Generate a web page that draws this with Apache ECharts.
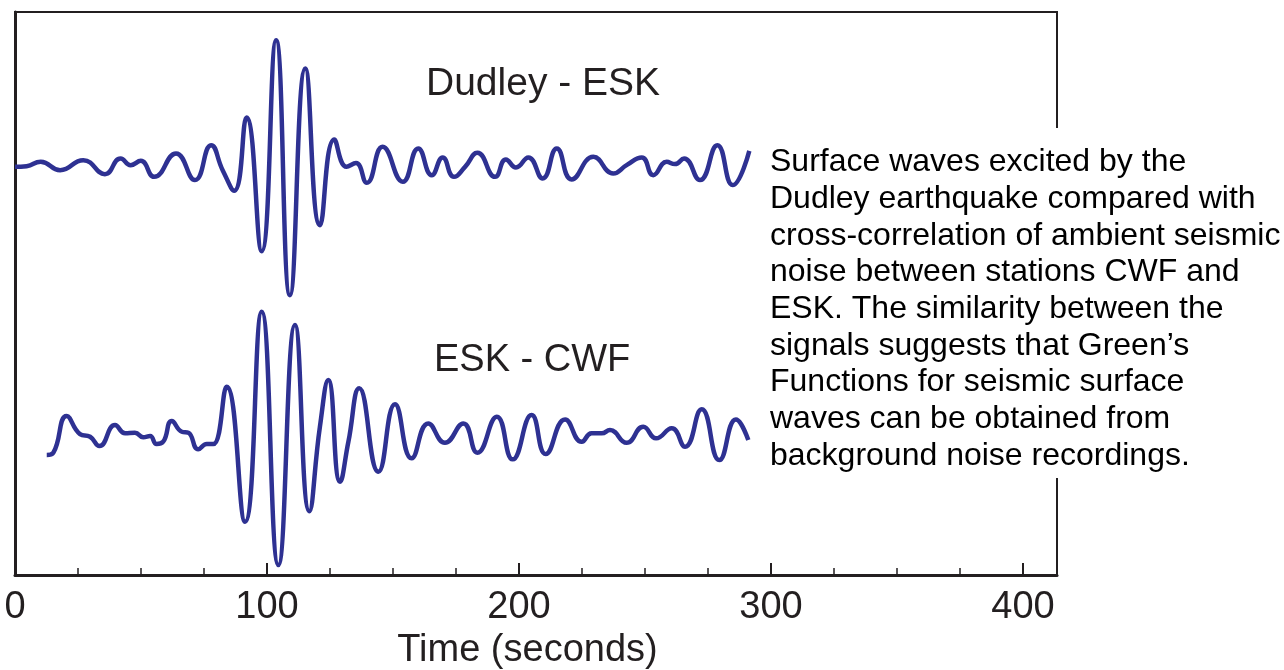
<!DOCTYPE html>
<html>
<head>
<meta charset="utf-8">
<script src="https://cdn.jsdelivr.net/npm/echarts@6/dist/echarts.min.js"></script>
<style>html,body{margin:0;padding:0;background:#fff;}#c{width:1284px;height:670px;}</style>
</head>
<body>
<div id="c"></div>
<script>
// Dudley - ESK (earthquake record): time (s) and relative amplitude
const quakeTime = [0, 4.6, 10.2, 17.9, 27.1, 35.7, 41.9, 45.9, 49.9, 55.2, 63.9, 71.4, 77.8, 82.4, 87.0, 91.9, 97.9, 103.6, 109.1, 115.2, 121.0, 126.7, 131.6, 135.3, 139.6, 145.9, 153.9, 160.0, 165.4, 169.7, 174.2, 178.6, 183.5, 190.5, 194.8, 198.8, 203.7, 209.4, 215.0, 220.9, 229.5, 237.4, 242.7, 248.7, 253.3, 258.6, 261.9, 265.5, 271.8, 278.7, 284.8, 291.4];
const quakeAmp = [-0.30, -0.18, 0.59, -0.89, 0.89, -1.60, 1.19, 0, 0.76, -2.08, 2.08, -2.66, 3.55, -0.89, -4.56, 8.47, -15.28, 22.20, -23.09, 17.18, -10.66, 4.56, -0.30, 0.36, -3.14, 3.25, -2.97, 2.97, -1.78, 1.37, -2.08, -0.30, 2.18, -2.08, 1.01, -0.41, 1.37, -2.36, 2.97, -2.54, 1.47, -1.47, 0, 1.37, -1.78, 0.59, 0.18, 1.19, -2.66, 3.55, -3.55, 2.54];

// ESK - CWF (ambient noise cross-correlation): time (s) and relative amplitude
const noiseTime = [12.6, 15.2, 20.5, 25.8, 29.8, 33.5, 39.7, 43.7, 47.6, 50.9, 53.6, 56.2, 58.8, 62.2, 66.2, 68.8, 72.7, 76.1, 78.7, 84.0, 91.3, 97.9, 104.5, 111.1, 116.8, 121.0, 124.3, 129.0, 132.3, 136.6, 144.2, 150.8, 157.4, 164.0, 170.6, 177.9, 183.5, 191.2, 197.5, 205.0, 210.6, 218.3, 224.9, 228.8, 232.8, 236.1, 242.7, 249.3, 254.4, 260.6, 265.9, 272.5, 279.5, 286.1, 291.0];
const noiseAmp = [-3.20, -2.79, 3.73, 0.53, 0.05, -1.60, 2.13, 0.66, 0.76, -0.05, 0.18, -1.24, -0.83, 2.84, 0.94, 0.76, -2.18, -1.24, -1.24, 8.93, -15.04, 22.26, -22.74, 19.89, -13.16, 1.83, 10.12, -7.94, -0.83, 8.65, -6.16, 5.81, -3.78, 2.43, -1.01, 2.43, -2.79, 3.61, -3.96, 3.91, -3.02, 3.14, -0.83, 0.66, 0.66, 1.24, -1.01, 1.83, -0.23, 1.55, -1.72, 4.92, -4.09, 3.14, -0.53];

// trace vertical offsets (baseline of each trace)
const quakeOffset = 72.8;
const noiseOffset = 24.5;

// axis ticks
const majorTicks = [0, 100, 200, 300, 400];
const minorTicks = [25, 50, 75, 125, 150, 175, 225, 250, 275, 325, 350, 375];

const traceLabels = ['Dudley - ESK', 'ESK - CWF'];
const caption = [
  'Surface waves excited by the',
  'Dudley earthquake compared with',
  'cross-correlation of ambient seismic',
  'noise between stations CWF and',
  'ESK. The similarity between the',
  'signals suggests that Green\u2019s',
  'Functions for seismic surface',
  'waves can be obtained from',
  'background noise recordings.'
];

const FONT = '"Liberation Sans", Arial, Helvetica, sans-serif';
const INK = '#231f20';
const BLUE = '#2e3192';

const quakeData = quakeTime.map((t, i) => [t, quakeAmp[i] + quakeOffset]);
const noiseData = noiseTime.map((t, i) => [t, noiseAmp[i] + noiseOffset]);

const chart = echarts.init(document.getElementById('c'), null, {renderer: 'canvas'});
chart.setOption({
  animation: false,
  backgroundColor: '#fff',
  grid: {left: 15, right: 227, top: 12, bottom: 95, containLabel: false, outerBoundsMode: 'none', show: true, borderColor: INK, borderWidth: 2, backgroundColor: 'transparent'},
  xAxis: [
    {
      type: 'value', min: 0, max: 413.5, position: 'bottom',
      axisLine: {show: true, lineStyle: {color: INK, width: 3}},
      axisTick: {show: true, inside: true, length: 12, lineStyle: {color: INK, width: 2}, customValues: majorTicks},
      axisLabel: {show: true, customValues: majorTicks, margin: 14, color: INK, fontFamily: FONT, fontSize: 38},
      splitLine: {show: false},
      name: 'Time (seconds)', nameLocation: 'middle', nameGap: 54,
      nameTextStyle: {color: INK, fontFamily: FONT, fontSize: 38, padding: [0, 17, 0, 0]}
    },
    {
      type: 'value', min: 0, max: 413.5, position: 'bottom',
      axisLine: {show: false},
      axisTick: {show: true, inside: true, length: 7, lineStyle: {color: INK, width: 1.5}, customValues: minorTicks},
      axisLabel: {show: false},
      splitLine: {show: false}
    }
  ],
  yAxis: {
    type: 'value', min: 0, max: 100,
    axisLine: {show: true, lineStyle: {color: INK, width: 3}},
    axisTick: {show: false}, axisLabel: {show: false}, splitLine: {show: false}
  },
  series: [
    {name: traceLabels[0], type: 'line', data: quakeData, smooth: 0.5, symbol: 'none', lineStyle: {color: BLUE, width: 4.5}},
    {name: traceLabels[1], type: 'line', data: noiseData, smooth: 0.5, symbol: 'none', lineStyle: {color: BLUE, width: 4.5}}
  ],
  graphic: [
    {type: 'text', left: 426, top: 65, style: {text: traceLabels[0], fill: INK, font: '39px ' + FONT}, z: 50},
    {type: 'text', left: 434, top: 342, style: {text: traceLabels[1], fill: INK, font: '38px ' + FONT}, z: 50},
    {type: 'rect', shape: {x: 760, y: 128, width: 524, height: 350}, style: {fill: '#fff'}, z: 90},
    {type: 'text', x: 770, y: 144, style: {text: caption.join('\n'), fill: '#000', font: '32px ' + FONT, lineHeight: 36.7, verticalAlign: 'top', align: 'left'}, z: 100}
  ]
});
</script>
</body>
</html>
